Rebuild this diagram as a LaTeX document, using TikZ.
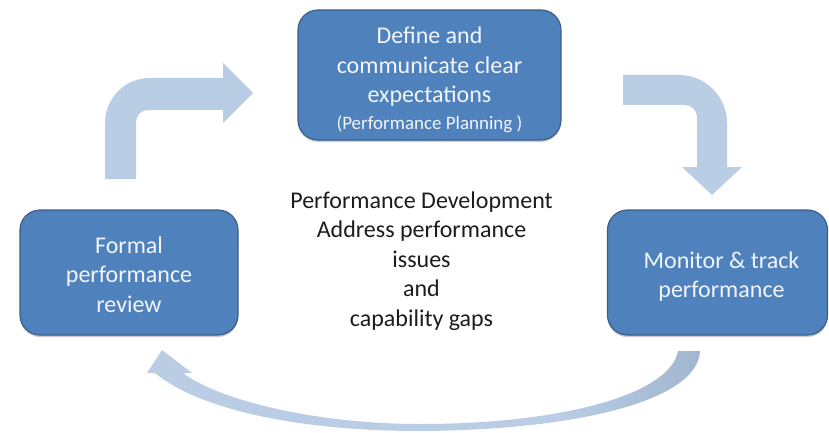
\documentclass[tikz,border=0pt]{standalone}
\usepackage{fontspec}
\setmainfont{Carlito}
\usetikzlibrary{shadows}
\definecolor{boxfill}{HTML}{4F81BD}
\definecolor{boxline}{HTML}{3A5F8B}
\definecolor{boxtext}{HTML}{F2F5FA}
\definecolor{arrowfill}{HTML}{B9CDE5}
\definecolor{arclight}{HTML}{BACDE5}
\definecolor{arcdark}{HTML}{8DA2BF}
\definecolor{bodytext}{HTML}{1C1C1C}
\pgfdeclarehorizontalshading{arcshade}{100bp}{color(0bp)=(arclight); color(62bp)=(arclight); color(86bp)=(arcdark); color(100bp)=(arcdark)}
\tikzset{
  stagebox/.style={draw=boxline, line width=1.2pt, fill=boxfill, rounded corners=20pt,
    inner sep=0pt,
    drop shadow={shadow xshift=0pt, shadow yshift=-2pt, opacity=0.35, fill=black!60}},
  stagetext/.style={text=boxtext, align=center, inner sep=0pt,
    font=\fontsize{24}{29.5}\selectfont},
  flowarrow/.style={fill=arrowfill, draw=none},
}
\begin{document}
\begin{tikzpicture}[x=1pt, y=-1pt]
\useasboundingbox (0,0) rectangle (829,433);

% the three stages of the cycle
\node[stagebox, minimum width=263pt, minimum height=130pt] (plan) at (429.5,75) {};
\node[stagetext] (plantext) at ([yshift=-5pt]plan.center)
  {Define and\\communicate clear\\expectations\\[-3pt]{\fontsize{19}{22}\selectfont (Performance Planning )}};
\node[stagebox, minimum width=218pt, minimum height=125pt] (review) at (129,272.5) {};
\node[stagetext] (reviewtext) at ([yshift=-2pt]review.center)
  {Formal\\performance\\review};
\node[stagebox, minimum width=220pt, minimum height=125pt] (monitor) at (717.5,272.5) {};
\node[stagetext] (monitortext) at ([xshift=4pt, yshift=-4pt]monitor.center)
  {Monitor \& track\\performance};

% centre caption
\node[text=bodytext, align=center, font=\fontsize{24}{29.5}\selectfont] (develop) at (421.5,261)
  {Performance Development\\Address performance\\issues\\and\\capability gaps};

% review -> plan : bent arrow up and to the right
\fill[flowarrow] (105,179) -- (105,123)
  .. controls (105,98.1) and (125.1,78) .. (150,78)
  -- (223,78) -- (223,63) -- (253,93) -- (223,123) -- (223,110) -- (148,110)
  .. controls (141.4,110) and (136,115.4) .. (136,122)
  -- (136,179) -- cycle;

% plan -> monitor : bent arrow right and down
\fill[flowarrow] (623,75) -- (679,75)
  .. controls (705.5,75) and (727,96.5) .. (727,123)
  -- (727,167) -- (742,167) -- (712,195) -- (682,167) -- (697,167) -- (697,117)
  .. controls (697,110.4) and (691.6,105) .. (685,105)
  -- (623,105) -- cycle;

% monitor -> review : curved return arrow beneath
\shade[shading=arcshade] (700,351)
  .. controls (698,400) and (580,430) .. (420,431)
  .. controls (300,431) and (200,410) .. (155,373)
  -- (147,373) -- (162,350) -- (192,373) -- (183,373)
  .. controls (215,398) and (310,424) .. (420,424)
  .. controls (560,424) and (670,395) .. (678,351) -- cycle;
\end{tikzpicture}
\end{document}
